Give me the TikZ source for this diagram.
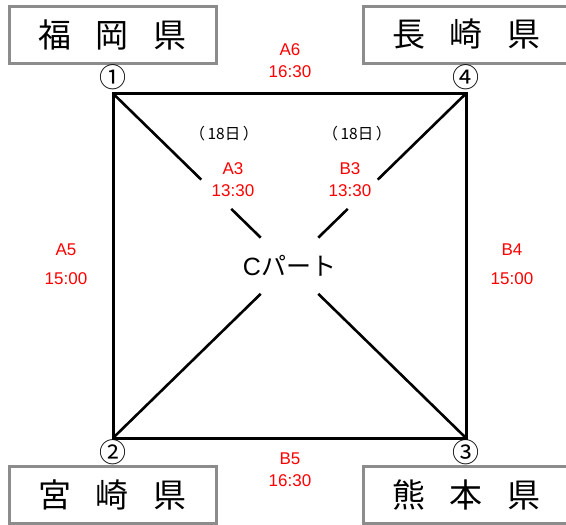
\documentclass[tikz,border=0pt]{standalone}
\usepackage{fontspec}
\setmainfont{Liberation Sans}
\newfontfamily\jp{Noto Sans CJK JP}
\usetikzlibrary{calc}
\tikzset{
  sq/.style={line width=3pt, line join=miter},
  diag/.style={line width=2.6pt},
  pref/.style={draw=gray!90, line width=3pt, minimum width=207pt, minimum height=57pt, inner sep=0pt, font=\jp\fontsize{33}{33}\selectfont},
  lab/.style={text=red, font=\fontsize{17}{22}\selectfont, align=center, inner sep=0pt},
  sidelab/.style={lab, font=\fontsize{17}{29}\selectfont},
  num/.style={font=\jp\fontsize{27}{27}\selectfont, inner sep=0pt},
  day/.style={font=\jp\fontsize{15.5}{15.5}\selectfont, inner sep=0pt},
}
\newcommand{\gp}{\hspace{25pt}}
\begin{document}
\begin{tikzpicture}[x=1pt,y=-1pt]
\useasboundingbox (0,0) rectangle (566,525);
\coordinate (c1) at (113,93.5);
\coordinate (c4) at (466,93.5);
\coordinate (c2) at (113,438);
\coordinate (c3) at (466,438);
\coordinate (m) at (289.5,265.75);
% boxes
\node[pref] (fk) at (112.5,34.5) {福\gp 岡\gp 県};
\node[pref] (ns) at (466.5,34.5) {長\gp 崎\gp 県};
\node[pref] (mz) at (112.5,495) {宮\gp 崎\gp 県};
\node[pref] (km) at (466.5,495) {熊\gp 本\gp 県};
% square
\draw[sq] (c1) -- (c4) -- (c3) -- (c2) -- cycle;
% diagonals
\draw[diag] (c1) -- ($(c1)!0.5!(m)$);
\draw[diag] ($(c1)!0.67!(m)$) -- ($(c1)!0.837!(m)$);
\draw[diag] (c4) -- ($(c4)!0.5!(m)$);
\draw[diag] ($(c4)!0.67!(m)$) -- ($(c4)!0.837!(m)$);
\draw[diag] (c2) -- ($(c2)!0.837!(m)$);
\draw[diag] (c3) -- ($(c3)!0.837!(m)$);
% center
\node[inner sep=0pt, font=\fontsize{25}{25}\selectfont] (cp) at (m) {C{\jp パート}};
% corner numbers
\node[num] (n1) at (113,77) {①};
\node[num] (n4) at (466,77) {④};
\node[num] (n2) at (113,452) {②};
\node[num] (n3) at (466,452) {③};
% labels
\node[lab] (a6) at (290,61) {A6\\16:30};
\node[sidelab] (a5) at (66,264.5) {A5\\15:00};
\node[sidelab] (b4) at (512,264.5) {B4\\15:00};
\node[lab] (b5) at (290,470) {B5\\16:30};
\node[lab] (a3) at (233,179.5) {A3\\13:30};
\node[lab] (b3) at (350,179.5) {B3\\13:30};
\node[day] (d1) at (224,134) {（\,18日\,）};
\node[day] (d2) at (357,134) {（\,18日\,）};
\end{tikzpicture}
\end{document}
